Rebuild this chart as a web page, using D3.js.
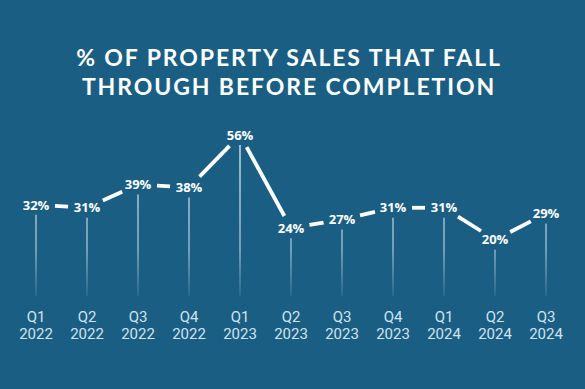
<!DOCTYPE html>
<html>
<head>
<meta charset="utf-8">
<script src="https://cdn.jsdelivr.net/npm/d3@7"></script>
<style>
  html, body { margin: 0; padding: 0; background: #1a5e83; }
  svg { display: block; }
</style>
</head>
<body>
<svg id="chart" width="585" height="389"></svg>
<script>
// data
var quarters = ["Q1", "Q2", "Q3", "Q4", "Q1", "Q2", "Q3", "Q4", "Q1", "Q2", "Q3"];
var years = ["2022", "2022", "2022", "2022", "2023", "2023", "2023", "2023", "2024", "2024", "2024"];
var values = [32, 31, 39, 38, 56, 24, 27, 31, 31, 20, 29];
var titleLines = ["% OF PROPERTY SALES THAT FALL", "THROUGH BEFORE COMPLETION"];

var W = 585, H = 389;
var svg = d3.select("#chart");

svg.append("rect").attr("width", W).attr("height", H).attr("fill", "#1a5e83");

/*========== gradient for stems ===========*/
var defs = svg.append("defs");
var grad = defs.append("linearGradient")
    .attr("id", "stemFade")
    .attr("gradientUnits", "userSpaceOnUse")
    .attr("x1", 0).attr("y1", 140).attr("x2", 0).attr("y2", 297);
grad.append("stop").attr("offset", "0%").attr("stop-color", "#e2eef6").attr("stop-opacity", 0.9);
grad.append("stop").attr("offset", "70%").attr("stop-color", "#cfe2ee").attr("stop-opacity", 0.65);
grad.append("stop").attr("offset", "100%").attr("stop-color", "#cfe2ee").attr("stop-opacity", 0.1);

/*========== title ===========*/
svg.append("g").selectAll("text")
    .data(titleLines)
    .enter()
    .append("text")
    .text(function (d) { return d; })
    .attr("x", 289)
    .attr("y", function (d, i) { return 66 + i * 29; })
    .attr("text-anchor", "middle")
    .attr("fill", "#ffffff")
    .style("font-family", "Lato, 'Open Sans', sans-serif")
    .style("font-weight", "700")
    .style("font-size", "23px")
    .style("letter-spacing", "1.9px");

/*========== scales ===========*/
var x = d3.scalePoint()
    .domain(d3.range(values.length))
    .range([36, 546]);

var y = d3.scaleLinear()
    .domain([0, 56])
    .range([298, 135]);

/*========== stems ===========*/
svg.append("g").selectAll("line")
    .data(values)
    .enter()
    .append("line")
    .attr("x1", function (d, i) { return x(i); })
    .attr("x2", function (d, i) { return x(i); })
    .attr("y1", function (d) { return y(d) + 10; })
    .attr("y2", 296)
    .attr("stroke", "url(#stemFade)")
    .attr("stroke-width", 1.5);

/*========== connecting segments (gapped around labels) ===========*/
var rx = 19, ry = 13;
function clipDist(dx, dy) {
    var len = Math.sqrt(dx * dx + dy * dy);
    var ux = dx / len, uy = dy / len;
    return 1 / Math.sqrt((ux / rx) * (ux / rx) + (uy / ry) * (uy / ry));
}
var segs = d3.range(values.length - 1).map(function (i) {
    var x0 = x(i), y0 = y(values[i]), x1 = x(i + 1), y1 = y(values[i + 1]);
    var dx = x1 - x0, dy = y1 - y0, len = Math.sqrt(dx * dx + dy * dy);
    var c = clipDist(dx, dy);
    return {
        x1: x0 + dx / len * c, y1: y0 + dy / len * c,
        x2: x1 - dx / len * c, y2: y1 - dy / len * c
    };
});
svg.append("g").selectAll("line")
    .data(segs)
    .enter()
    .append("line")
    .attr("x1", function (d) { return d.x1; })
    .attr("y1", function (d) { return d.y1; })
    .attr("x2", function (d) { return d.x2; })
    .attr("y2", function (d) { return d.y2; })
    .attr("stroke", "#ffffff")
    .attr("stroke-width", 3.8);

/*========== value labels ===========*/
svg.append("g").selectAll("text")
    .data(values)
    .enter()
    .append("text")
    .text(function (d) { return d + "%"; })
    .attr("x", function (d, i) { return x(i); })
    .attr("y", function (d) { return y(d); })
    .attr("dy", "0.36em")
    .attr("text-anchor", "middle")
    .attr("fill", "#ffffff")
    .style("font-family", "'Open Sans', Roboto, sans-serif")
    .style("font-weight", "700")
    .style("font-size", "13px");

/*========== x labels ===========*/
var xl = svg.append("g").selectAll("text")
    .data(quarters)
    .enter()
    .append("text")
    .attr("text-anchor", "middle")
    .attr("fill", "#cfe3f0")
    .style("font-family", "Roboto, 'Noto Sans', sans-serif")
    .style("font-size", "15px");
xl.append("tspan")
    .attr("x", function (d, i) { return x(i); })
    .attr("y", 322)
    .text(function (d) { return d; });
xl.append("tspan")
    .attr("x", function (d, i) { return x(i); })
    .attr("y", 339)
    .text(function (d, i) { return years[i]; });
</script>
</body>
</html>
